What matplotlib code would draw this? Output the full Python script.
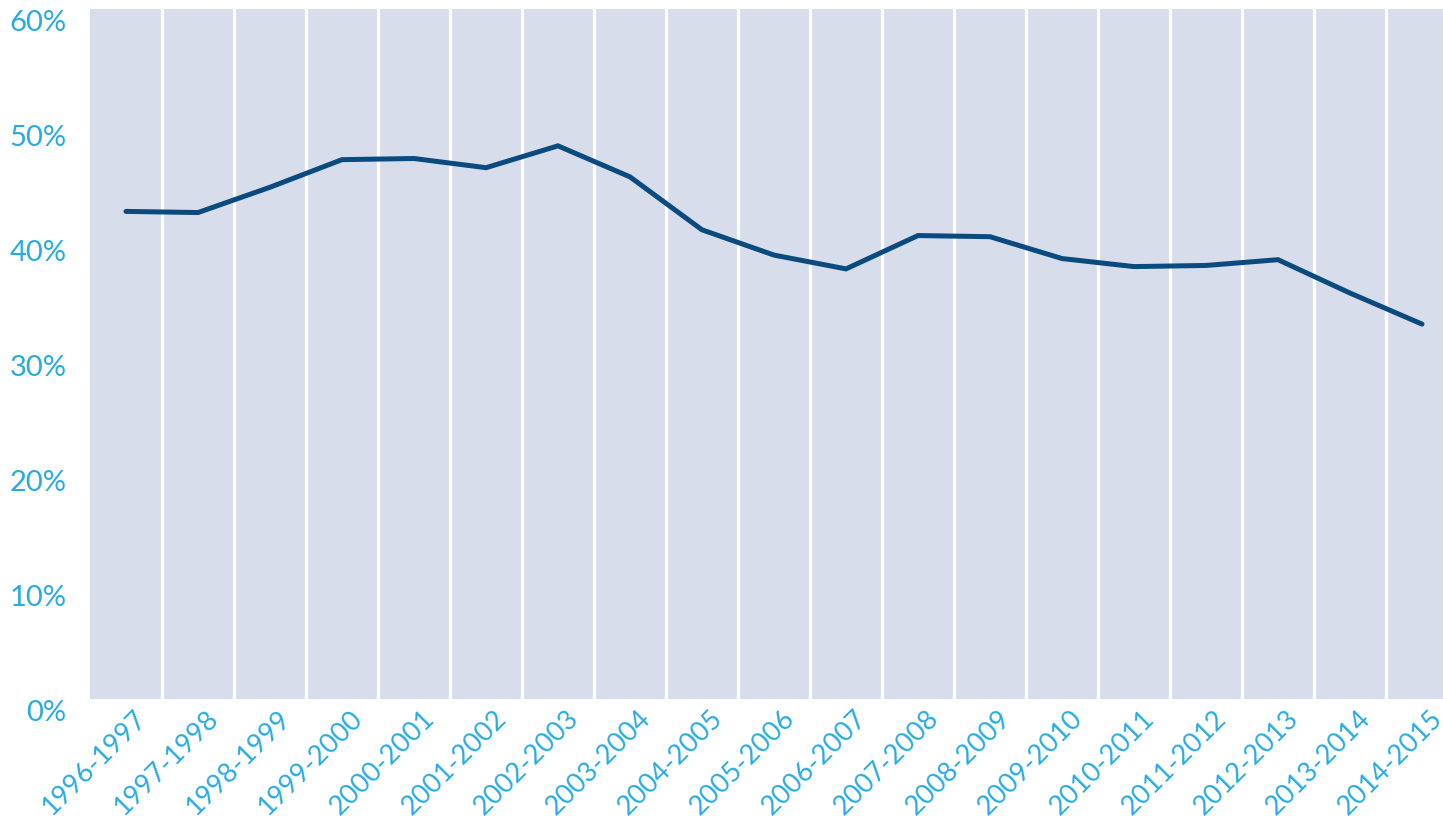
"""Line chart of yearly share, recreated with matplotlib."""

import matplotlib
matplotlib.use("Agg")
import matplotlib.pyplot as plt
from matplotlib.ticker import FuncFormatter
from matplotlib.transforms import ScaledTranslation

seasons = [
    "1996-1997", "1997-1998", "1998-1999", "1999-2000", "2000-2001",
    "2001-2002", "2002-2003", "2003-2004", "2004-2005", "2005-2006",
    "2006-2007", "2007-2008", "2008-2009", "2009-2010", "2010-2011",
    "2011-2012", "2012-2013", "2013-2014", "2014-2015",
]
share_pct = [
    42.4, 42.3, 44.5, 46.9, 47.0, 46.2, 48.1, 45.4, 40.8, 38.6,
    37.4, 40.3, 40.2, 38.3, 37.6, 37.7, 38.2, 35.3, 32.6,
]
y_ticks = [0, 10, 20, 30, 40, 50, 60]

BAND = "#d7ddea"
LINE = "#0b4a7f"
LABEL = "#29abe2"

plt.rcParams["font.family"] = ["Lato", "DejaVu Sans"]

fig = plt.figure(figsize=(14.43, 8.28), dpi=100)
# axes run a little past the right edge of the picture, as in the source
ax = fig.add_axes([90 / 1443, 128 / 828, 1368 / 1443, 690 / 828])
ax.set_facecolor(BAND)
for spine in ax.spines.values():
    spine.set_visible(False)

positions = list(range(len(seasons)))
for pos in positions[:-1]:
    ax.axvline(pos + 0.5, color="white", lw=2.4, zorder=1)

ax.plot(positions, share_pct, color=LINE, lw=3.6, solid_capstyle="round",
        solid_joinstyle="miter", zorder=3)

ax.set_xlim(-0.5, len(seasons) - 0.5)
ax.set_ylim(0, 60)
ax.set_yticks(y_ticks)
ax.yaxis.set_major_formatter(FuncFormatter(lambda v, _: f"{v:.0f}%"))
ax.tick_params(axis="y", length=0, pad=17, labelsize=21, labelcolor=LABEL)
for label in ax.get_yticklabels():
    label.set_verticalalignment("top")

ax.set_xticks(positions)
ax.set_xticklabels(seasons, rotation=45, ha="right", va="top",
                   rotation_mode="anchor", fontsize=19.5, color=LABEL)
ax.tick_params(axis="x", length=0, pad=0)
shift = ScaledTranslation(0.08, -0.06, fig.dpi_scale_trans)
for label in ax.get_xticklabels():
    label.set_transform(label.get_transform() + shift)

fig.savefig("out.png", dpi=100)
